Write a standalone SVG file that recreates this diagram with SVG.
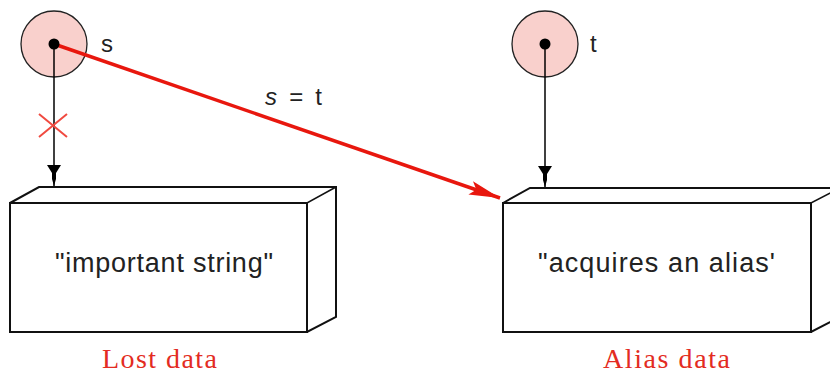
<svg xmlns="http://www.w3.org/2000/svg" width="830" height="375" viewBox="0 0 830 375">
<style>
.var{fill:#f9d0cc;stroke:#222;stroke-width:1.3}
.dot{fill:#000}
.box{fill:#fff;stroke:#111;stroke-width:2;stroke-linejoin:miter}
.edge{fill:none;stroke:#111;stroke-width:1.5}
.lbl{font-family:"Liberation Sans",Arial,sans-serif;fill:#222}
.cap{font-family:"Liberation Serif","Times New Roman",serif;fill:#e32b22}
</style>
<defs>
<marker id="blk" markerUnits="userSpaceOnUse" markerWidth="22" markerHeight="16" refX="21" refY="8" orient="auto" viewBox="0 0 22 16">
<path d="M0,1 L0,15 L8,10 L14,10 L21,8 L14,6 L8,6 Z" fill="#000"/>
</marker>
<marker id="red" markerUnits="userSpaceOnUse" markerWidth="32" markerHeight="14" refX="31" refY="7" orient="auto" viewBox="0 0 32 14">
<path d="M0,0 L31,7 L0,14 L6,7 Z" fill="#e8170e"/>
</marker>
</defs>
<g id="box-s">
<path class="box" d="M10,203 L39,187 L336,187 L336,317 L307,332 L10,332 Z"/>
<path class="edge" d="M10,203 L307,203 L336,187 M307,203 L307,332"/>
<rect class="box" x="10" y="203" width="297" height="129"/>
<text class="lbl" x="55" y="272" font-size="27" textLength="218">"important string"</text>
</g>
<g id="box-t">
<path class="box" d="M503,203 L530,188 L840,188 L840,317 L811,332 L503,332 Z"/>
<path class="edge" d="M503,203 L811,203 L840,188 M811,203 L811,332"/>
<rect class="box" x="503" y="203" width="308" height="129"/>
<text class="lbl" x="538" y="272" font-size="27" textLength="237">"acquires an alias'</text>
</g>
<g id="var-s">
<circle class="var" cx="54" cy="44" r="33"/>
<text class="lbl" x="101" y="52" font-size="24">s</text>
</g>
<g id="var-t">
<circle class="var" cx="545" cy="44" r="33"/>
<text class="lbl" x="590" y="52" font-size="24">t</text>
</g>
<g id="connectors">
<line x1="54" y1="44" x2="54" y2="186" stroke="#000" stroke-width="1.5" marker-end="url(#blk)"/>
<line x1="545" y1="44" x2="545" y2="187" stroke="#000" stroke-width="1.5" marker-end="url(#blk)"/>
<line x1="54" y1="44" x2="500" y2="198" stroke="#e8170e" stroke-width="3.5" marker-end="url(#red)"/>
<path d="M39,114 L67,137 M67,114 L39,137" stroke="#f04a40" stroke-width="2" fill="none"/>
<circle class="dot" cx="54" cy="44" r="5.5"/>
<circle class="dot" cx="545" cy="44" r="5.5"/>
<text class="lbl" x="265" y="105" font-size="24" textLength="57"><tspan font-style="italic">s</tspan> = t</text>
</g>
<g id="captions">
<text class="cap" x="102" y="368" font-size="28" textLength="115">Lost data</text>
<text class="cap" x="603" y="368" font-size="28" textLength="127">Alias data</text>
</g>
</svg>
